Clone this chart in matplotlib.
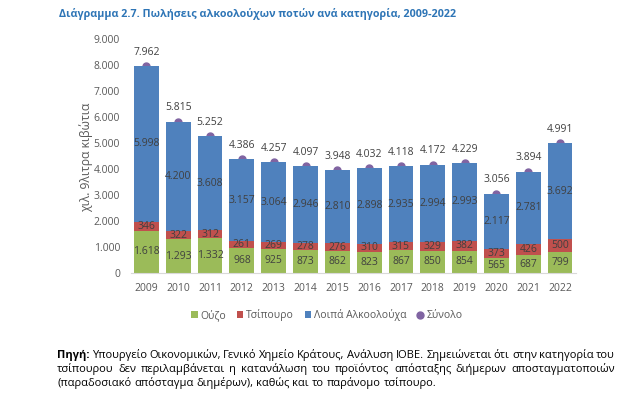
import matplotlib
matplotlib.use("Agg")
import matplotlib.pyplot as plt
import numpy as np

years = ["2009", "2010", "2011", "2012", "2013", "2014", "2015", "2016", "2017", "2018", "2019", "2020", "2021", "2022"]
ouzo = [1618, 1293, 1332, 968, 925, 873, 862, 823, 867, 850, 854, 565, 687, 799]
tsipouro = [346, 322, 312, 261, 269, 278, 276, 310, 315, 329, 382, 373, 426, 500]
loipa = [5998, 4200, 3608, 3157, 3064, 2946, 2810, 2898, 2935, 2994, 2993, 2117, 2781, 3692]
synolo = [7962, 5815, 5252, 4386, 4257, 4097, 3948, 4032, 4118, 4172, 4229, 3056, 3894, 4991]
yticks = [0, 1000, 2000, 3000, 4000, 5000, 6000, 7000, 8000, 9000]

FONT = ["Open Sans", "DejaVu Sans"]
plt.rcParams['font.family'] = FONT

def fmt(v):
    return f"{v:,}".replace(",", ".")

C_G, C_R, C_B, C_P = "#9BBB59", "#C0504D", "#4F81BD", "#8064A2"
TXT = "#404040"

fig = plt.figure(figsize=(6.4, 3.95), dpi=100)
W, H = 640, 395
ax = fig.add_axes([130.5 / W, 1 - 273 / H, (576 - 130.5) / W, (273 - 39) / H])
fig.canvas.draw()
renderer = fig.canvas.get_renderer()

def fit(t, target_px, horizontal=True):
    bb = t.get_window_extent(renderer)
    cur = bb.width if horizontal else bb.height
    t.set_fontsize(t.get_fontsize() * target_px / cur)

x = np.arange(len(years))
bw = 0.78
ln, = ax.plot(x, synolo, linestyle="none", marker="o", markersize=5, color=C_P, label="Σύνολο", zorder=1)
b1 = ax.bar(x, ouzo, bw, color=C_G, label="Ούζο", zorder=2)
b2 = ax.bar(x, tsipouro, bw, bottom=ouzo, color=C_R, label="Τσίπουρο", zorder=2)
bot3 = np.array(ouzo) + np.array(tsipouro)
b3 = ax.bar(x, loipa, bw, bottom=bot3, color=C_B, label="Λοιπά Αλκοολούχα", zorder=2)

for i in range(len(years)):
    ax.text(x[i], ouzo[i] / 2, fmt(ouzo[i]), ha="center", va="center", fontsize=7.5, color=TXT, zorder=3)
    ax.text(x[i], ouzo[i] + tsipouro[i] / 2, fmt(tsipouro[i]), ha="center", va="center", fontsize=7.5, color=TXT, zorder=3)
    ax.text(x[i], bot3[i] + loipa[i] / 2, fmt(loipa[i]), ha="center", va="center", fontsize=7.5, color=TXT, zorder=3)
    ax.annotate(fmt(synolo[i]), (x[i], synolo[i]), xytext=(0, 10), textcoords="offset points",
                ha="center", va="center", fontsize=7.5, color=TXT)

ax.set_xlim(-0.5, len(years) - 0.5)
ax.set_ylim(0, 9000)
ax.set_yticks(yticks)
ax.set_yticklabels([fmt(v) for v in yticks])
ax.set_xticks(x)
ax.set_xticklabels(years)
ax.tick_params(axis="both", length=0, labelsize=7.5, labelcolor="#595959")
ax.tick_params(axis="y", pad=7.5)
ax.tick_params(axis="x", pad=7)
for s in ["top", "right", "left"]:
    ax.spines[s].set_visible(False)
ax.spines["bottom"].set_color("#D9D9D9")

# y label placed explicitly
yl = fig.text(86 / W, 1 - 157 / H, "χιλ. 9λιτρα κιβώτια", rotation=90, fontsize=8, color="#595959",
              ha="center", va="center")
fit(yl, 110, horizontal=False)

leg = fig.legend(handles=[b1, b2, b3, ln], loc="center", bbox_to_anchor=(327 / W, 1 - 315 / H),
                 ncol=4, frameon=False, fontsize=7.5, handlelength=0.6, handleheight=0.6,
                 handletextpad=0.3, columnspacing=1.0, labelcolor="#595959")

title = fig.text(59 / W, 1 - 14 / H, "Διάγραμμα 2.7. Πωλήσεις αλκοολούχων ποτών ανά κατηγορία, 2009-2022",
                 fontsize=10, fontweight="bold", color="#2E75B6", ha="left", va="center")
fit(title, 398)

# footnote with justification
x0, x1 = 57 / W, 615 / W
last = "(παραδοσιακό απόσταγμα διημέρων), καθώς και το παράνομο τσίπουρο."
probe = fig.text(0, 0, last, fontsize=8)
fit(probe, 380)
FS = probe.get_fontsize()
probe.remove()

lines = [
    ([("Πηγή:", "bold")] + [(w, "normal") for w in "Υπουργείο Οικονομικών, Γενικό Χημείο Κράτους, Ανάλυση ΙΟΒΕ. Σημειώνεται ότι στην κατηγορία του".split()], True, 358),
    ([(w, "normal") for w in "τσίπουρου δεν περιλαμβάνεται η κατανάλωση του προϊόντος απόσταξης διήμερων αποσταγματοποιών".split()], True, 372),
    ([(w, "normal") for w in last.split()], False, 386),
]
for words, just, yp in lines:
    texts = []
    widths = []
    for w, wt in words:
        t = fig.text(0, 1 - yp / H, w, fontsize=FS, fontweight=wt, color="#000000", ha="left", va="baseline")
        bb = t.get_window_extent(renderer)
        texts.append(t)
        widths.append(bb.width / W)
    if just:
        gap = (x1 - x0 - sum(widths)) / (len(words) - 1)
    else:
        sp = fig.text(0, 0, "a a", fontsize=FS)
        sp2 = fig.text(0, 0, "aa", fontsize=FS)
        gap = (sp.get_window_extent(renderer).width - sp2.get_window_extent(renderer).width) / W
        sp.remove(); sp2.remove()
    cx = x0
    for t, wd in zip(texts, widths):
        t.set_x(cx)
        cx += wd + gap

fig.savefig("out.png", dpi=100)
